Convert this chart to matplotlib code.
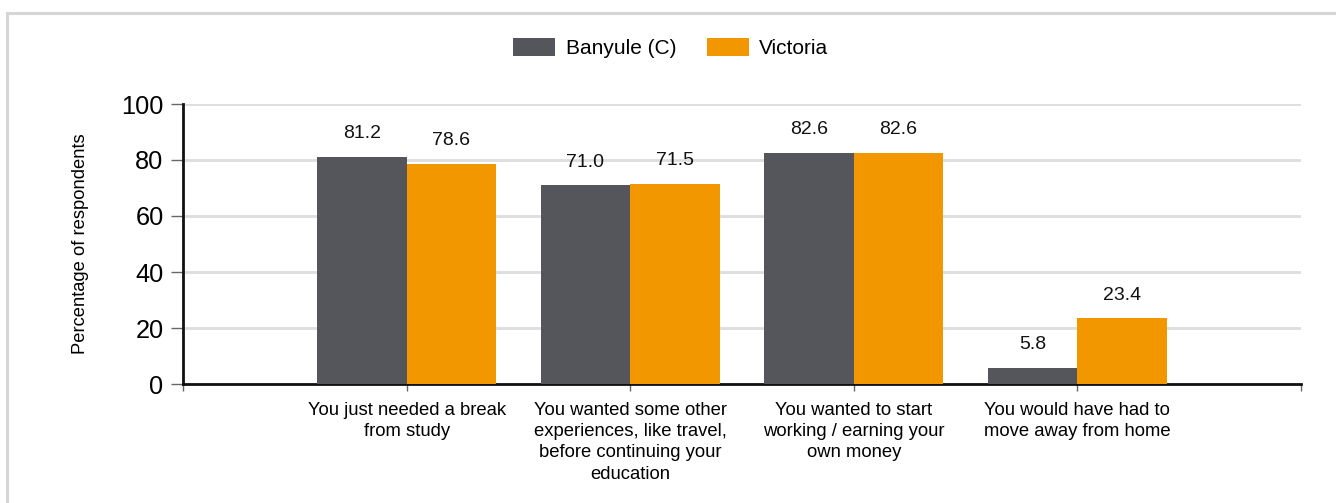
import matplotlib
matplotlib.use("Agg")
import matplotlib.pyplot as plt
from matplotlib.patches import Rectangle
import numpy as np

plt.rcParams['font.family'] = ['Liberation Sans', 'DejaVu Sans']

# data
categories = ["You just needed a break\nfrom study",
              "You wanted some other\nexperiences, like travel,\nbefore continuing your\neducation",
              "You wanted to start\nworking / earning your\nown money",
              "You would have had to\nmove away from home"]
banyule = [81.2, 71.0, 82.6, 5.8]
victoria = [78.6, 71.5, 82.6, 23.4]
series_names = ["Banyule (C)", "Victoria"]
y_ticks = [0, 20, 40, 60, 80, 100]

dark = "#54565b"
orange = "#f39700"
grid_col = "#dddddd"

fig = plt.figure(figsize=(13.36, 5.03), dpi=100)
ax = fig.add_axes([183/1336, 1 - 384/503, (1301 - 183)/1336, (384 - 104)/503])

# light frame round the chart
fig.patches.append(Rectangle((7/1336, -0.1), 1.2, 1 - 13/503 + 0.1, transform=fig.transFigure,
                             fill=False, edgecolor="#d6d6d6", linewidth=2.2))

x = np.arange(1, len(categories) + 1)
w = 0.4
b1 = ax.bar(x - w/2, banyule, w, color=dark, label=series_names[0], zorder=3)
b2 = ax.bar(x + w/2, victoria, w, color=orange, label=series_names[1], zorder=3)

for bars, vals in ((b1, banyule), (b2, victoria)):
    for r, v in zip(bars, vals):
        ax.annotate(f"{v:.1f}", (r.get_x() + r.get_width()/2, v), xytext=(0, 10.5),
                    textcoords="offset points", ha="center", va="bottom", fontsize=14, color="#111111")

ax.set_xlim(0, 5)
ax.set_ylim(0, 100)
ax.set_yticks(y_ticks)
ax.set_yticklabels([str(t) for t in y_ticks], fontsize=18.3)
ax.set_xticks(np.arange(0, 6))
ax.set_xticklabels([""] + categories + [""], fontsize=13.3, linespacing=1.32, va="top")
ax.tick_params(axis="x", length=5, color="#666666", width=1, pad=8)
ax.tick_params(axis="y", length=9, color="#666666", width=1, pad=5)
ax.grid(axis="y", color=grid_col, linewidth=2, zorder=0)
ax.set_axisbelow(True)

for s in ("top", "right"):
    ax.spines[s].set_visible(False)
ax.spines["left"].set_linewidth(2)
ax.spines["bottom"].set_linewidth(2)
ax.spines["left"].set_color("#111111")
ax.spines["bottom"].set_color("#111111")

ax.set_ylabel("Percentage of respondents", fontsize=13.2, labelpad=23)

fig.legend(handles=[b1, b2], loc="center", bbox_to_anchor=(671/1336, 1 - 48/503), ncol=2,
           frameon=False, fontsize=15, handlelength=2.0, handleheight=0.95, columnspacing=1.5,
           handletextpad=0.5)

fig.savefig("out.png", dpi=100, facecolor="white")
